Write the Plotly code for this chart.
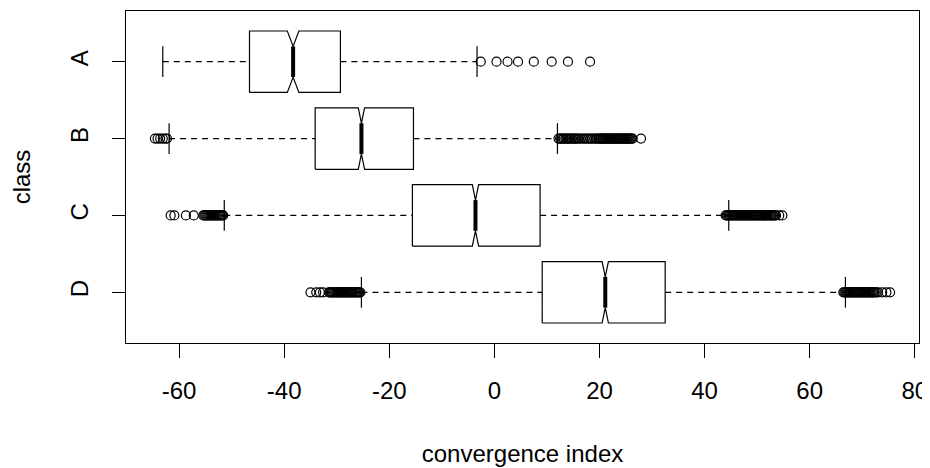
import plotly.graph_objects as go

# ---- data ----
classes = ["A", "B", "C", "D"]
positions = [4, 3, 2, 1]
q1 = [-46.6, -34.1, -15.6, 9.1]
median = [-38.3, -25.3, -3.6, 21.1]
q3 = [-29.3, -15.4, 8.7, 32.5]
notch_half = [1.1, 0.6, 0.6, 0.6]
lower_whisker = [-63.1, -61.9, -51.4, -25.3]
upper_whisker = [-3.3, 12.0, 44.6, 66.8]

outliers_A = [-2.6, 0.4, 2.5, 4.5, 7.5, 10.9, 14.0, 18.2]
outliers_B = [-64.6, -64.1, -63.6, -63.1, -62.6, -62.3,
              12.2, 12.5, 12.7, 13.0, 13.2, 13.5, 13.7, 14.0, 14.2, 14.5, 14.7,
              15.0, 15.3, 15.5, 15.8, 16.1, 16.5, 16.9, 17.2, 17.6, 17.9, 18.3,
              18.6, 19.0, 19.3, 19.6, 19.9, 20.1, 20.3, 20.5, 20.7, 20.9, 21.1,
              21.3, 21.5, 21.7, 21.9, 22.1, 22.3, 22.5, 22.7, 22.9, 23.1, 23.3,
              23.5, 23.7, 23.9, 24.1, 24.3, 24.5, 24.7, 24.9, 25.1, 25.3, 25.5,
              25.7, 25.9, 26.1, 26.3, 27.9]
outliers_C = [-61.6, -60.9, -58.7, -57.2,
              -55.4, -55.2, -55.0, -54.8, -54.6, -54.4, -54.2, -54.0, -53.8,
              -53.6, -53.4, -53.2, -53.0, -52.8, -52.6, -52.4, -52.2, -52.0,
              -51.8, -51.6,
              44.0, 44.2, 44.4, 44.6, 44.8, 45.0, 45.2, 45.4, 45.6, 45.8, 46.0,
              46.2, 46.4, 46.6, 46.8, 47.0, 47.2, 47.4, 47.6, 47.8, 48.0, 48.2,
              48.4, 48.6, 48.8, 49.0, 49.2, 49.4, 49.6, 49.8, 50.0, 50.2, 50.4,
              50.6, 50.8, 51.0, 51.2, 51.4, 51.6, 51.8, 52.0, 52.2, 52.4, 52.6,
              52.8, 53.0, 53.2, 53.4, 53.6, 54.2, 54.8]
outliers_D = [-35.0, -33.9, -33.2, -32.6,
              -31.5, -31.3, -31.1, -30.9, -30.7, -30.5, -30.3, -30.1, -29.9,
              -29.7, -29.5, -29.3, -29.1, -28.9, -28.7, -28.5, -28.3, -28.1,
              -27.9, -27.7, -27.5, -27.3, -27.1, -26.9, -26.7, -26.5, -26.3,
              -26.1, -25.9, -25.7, -25.5,
              66.4, 66.6, 66.8, 67.0, 67.2, 67.4, 67.6, 67.8, 68.0, 68.2, 68.4,
              68.6, 68.8, 69.0, 69.2, 69.4, 69.6, 69.8, 70.0, 70.2, 70.4, 70.6,
              70.8, 71.0, 71.2, 71.4, 71.6, 71.8, 72.0, 72.2, 72.4, 72.7, 73.0,
              73.8, 74.6, 75.3]
outliers = [outliers_A, outliers_B, outliers_C, outliers_D]

x_ticks = [-60, -40, -20, 0, 20, 40, 60, 80]
x_title = "convergence index"
y_title = "class"

# ---- styling ----
FONT = "Liberation Sans, Arial, sans-serif"
W = 0.4          # half box height
STAPLE = 0.2     # half staple height
LC = "black"

fig = go.Figure()
for i, c in enumerate(classes):
    p = positions[i]
    nlo = median[i] - notch_half[i]
    nhi = median[i] + notch_half[i]
    # whiskers (dashed)
    fig.add_trace(go.Scatter(
        x=[lower_whisker[i], q1[i], None, q3[i], upper_whisker[i]],
        y=[p, p, None, p, p], mode="lines",
        line=dict(color=LC, width=1.2, dash="6px,5px"), showlegend=False, hoverinfo="skip"))
    # staples
    fig.add_trace(go.Scatter(
        x=[lower_whisker[i], lower_whisker[i], None, upper_whisker[i], upper_whisker[i]],
        y=[p - STAPLE, p + STAPLE, None, p - STAPLE, p + STAPLE], mode="lines",
        line=dict(color=LC, width=1.2), showlegend=False, hoverinfo="skip"))
    # notched box
    fig.add_trace(go.Scatter(
        x=[q1[i], nlo, median[i], nhi, q3[i], q3[i], nhi, median[i], nlo, q1[i], q1[i]],
        y=[p - W, p - W, p - W / 2, p - W, p - W, p + W, p + W, p + W / 2, p + W, p + W, p - W],
        mode="lines", fill="toself", fillcolor="white",
        line=dict(color=LC, width=1.2), showlegend=False, name=c))
    # median
    fig.add_trace(go.Scatter(
        x=[median[i], median[i]], y=[p - W / 2, p + W / 2], mode="lines",
        line=dict(color=LC, width=4), showlegend=False, hoverinfo="skip"))
    # outliers
    fig.add_trace(go.Scatter(
        x=outliers[i], y=[p] * len(outliers[i]), mode="markers",
        marker=dict(symbol="circle-open", size=9, color=LC, line=dict(width=1.2)),
        showlegend=False, name=c))

# page body has an 8px margin: shrink figure so the plot sits where the reference has it
fig.update_layout(
    width=922, height=460,
    margin=dict(l=118, r=7, t=2, b=125),
    plot_bgcolor="white", paper_bgcolor="white",
    font=dict(family=FONT, size=24, color="black"),
    xaxis=dict(range=[-70.1, 80.8], tickvals=x_ticks, ticktext=[str(v) for v in x_ticks],
               ticks="outside", ticklen=14, tickwidth=1, tickcolor=LC,
               ticklabelstandoff=12, ticklabeloverflow="allow",
               showline=True, linecolor=LC, linewidth=1, mirror=True,
               showgrid=False, zeroline=False,
               title=dict(text=x_title, standoff=42, font=dict(size=24))),
    yaxis=dict(range=[0.34, 4.66], tickvals=positions, ticktext=classes, tickangle=-90,
               ticks="outside", ticklen=13, tickwidth=1, tickcolor=LC,
               ticklabelstandoff=14,
               showline=True, linecolor=LC, linewidth=1, mirror=True,
               showgrid=False, zeroline=False,
               title=dict(text=y_title, standoff=30, font=dict(size=24))),
)

fig.write_html("out.html")
